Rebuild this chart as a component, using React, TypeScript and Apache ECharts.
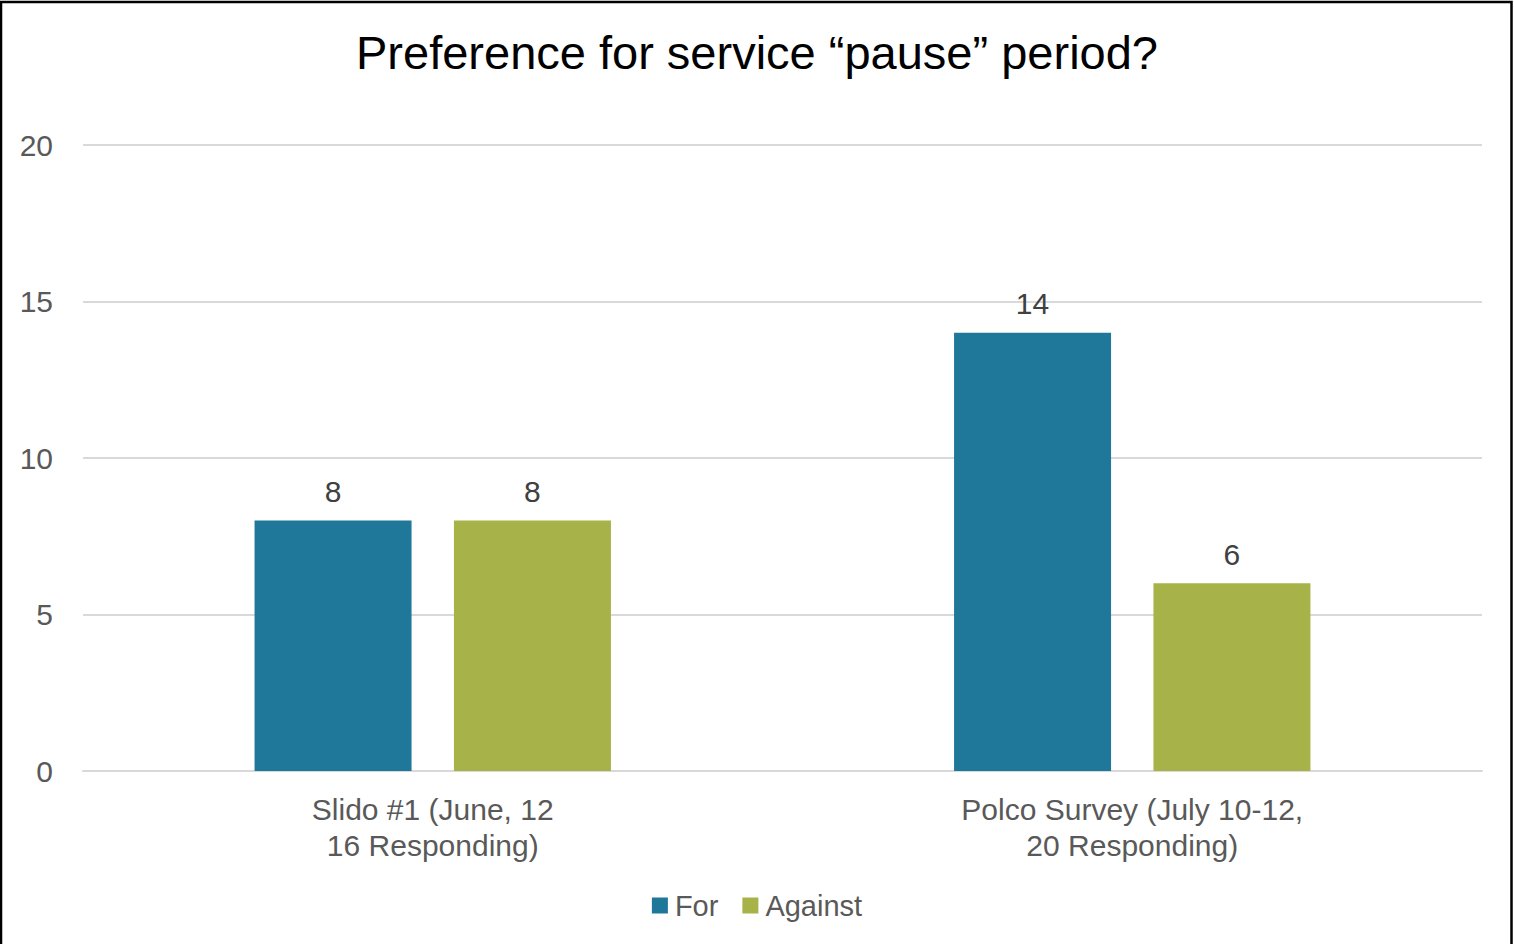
import React, { useEffect, useRef } from "react";
import * as echarts from "echarts";

const categories = ["Slido #1 (June, 12\n16 Responding)", "Polco Survey (July 10-12,\n20 Responding)"];
const forValues = [8, 14];
const againstValues = [8, 6];
const seriesNames = ["For", "Against"];
const yTicks = { min: 0, max: 20, interval: 5 };

const FONT = "'Liberation Sans', Arial, sans-serif";

export default function App() {
  const ref = useRef<HTMLDivElement>(null);
  useEffect(() => {
    if (!ref.current) return;
    const chart = echarts.init(ref.current, null, { renderer: "svg" });
    chart.setOption({
      animation: false,
      backgroundColor: "#ffffff",
      title: {
        text: "Preference for service “pause” period?",
        left: "center",
        top: 24,
        textStyle: { fontFamily: FONT, fontSize: 47, fontWeight: "normal", color: "#000000" },
      },
      legend: {
        data: seriesNames,
        bottom: 19,
        left: "center",
        itemWidth: 16,
        itemHeight: 16,
        itemGap: 24,
        icon: "rect",
        textStyle: { fontFamily: FONT, fontSize: 29, color: "#595959", padding: [0, 0, 0, 2] },
      },
      grid: { left: 83, right: 32, top: 145, bottom: 173 },
      xAxis: {
        type: "category",
        data: categories,
        axisLine: { show: true, lineStyle: { color: "#D9D9D9", width: 2 } },
        axisTick: { show: false },
        axisLabel: { fontFamily: FONT, fontSize: 30, color: "#595959", margin: 20, lineHeight: 36 },
      },
      yAxis: {
        type: "value",
        min: yTicks.min,
        max: yTicks.max,
        interval: yTicks.interval,
        axisLine: { show: false },
        axisTick: { show: false },
        splitLine: { lineStyle: { color: "#D9D9D9", width: 2 } },
        axisLabel: { fontFamily: FONT, fontSize: 30, color: "#595959", margin: 30 },
      },
      series: [
        {
          name: seriesNames[0],
          type: "bar",
          data: forValues,
          barWidth: 157,
          barGap: "27%",
          itemStyle: { color: "#1F7799" },
          label: { show: true, position: "top", distance: 14, fontFamily: FONT, fontSize: 30, color: "#404040" },
        },
        {
          name: seriesNames[1],
          type: "bar",
          data: againstValues,
          barWidth: 157,
          barGap: "27%",
          itemStyle: { color: "#A7B249" },
          label: { show: true, position: "top", distance: 14, fontFamily: FONT, fontSize: 30, color: "#404040" },
        },
      ],
      graphic: [
        {
          type: "rect",
          shape: { x: 1, y: 2, width: 1510.5, height: 960 },
          style: { fill: "none", stroke: "#000000", lineWidth: 2.5 },
          silent: true,
          z: 100,
        },
      ],
    });
    return () => chart.dispose();
  }, []);
  return (
    <div
      ref={ref}
      style={{ position: "absolute", left: 0, top: 0, width: 1514, height: 944 }}
    />
  );
}
